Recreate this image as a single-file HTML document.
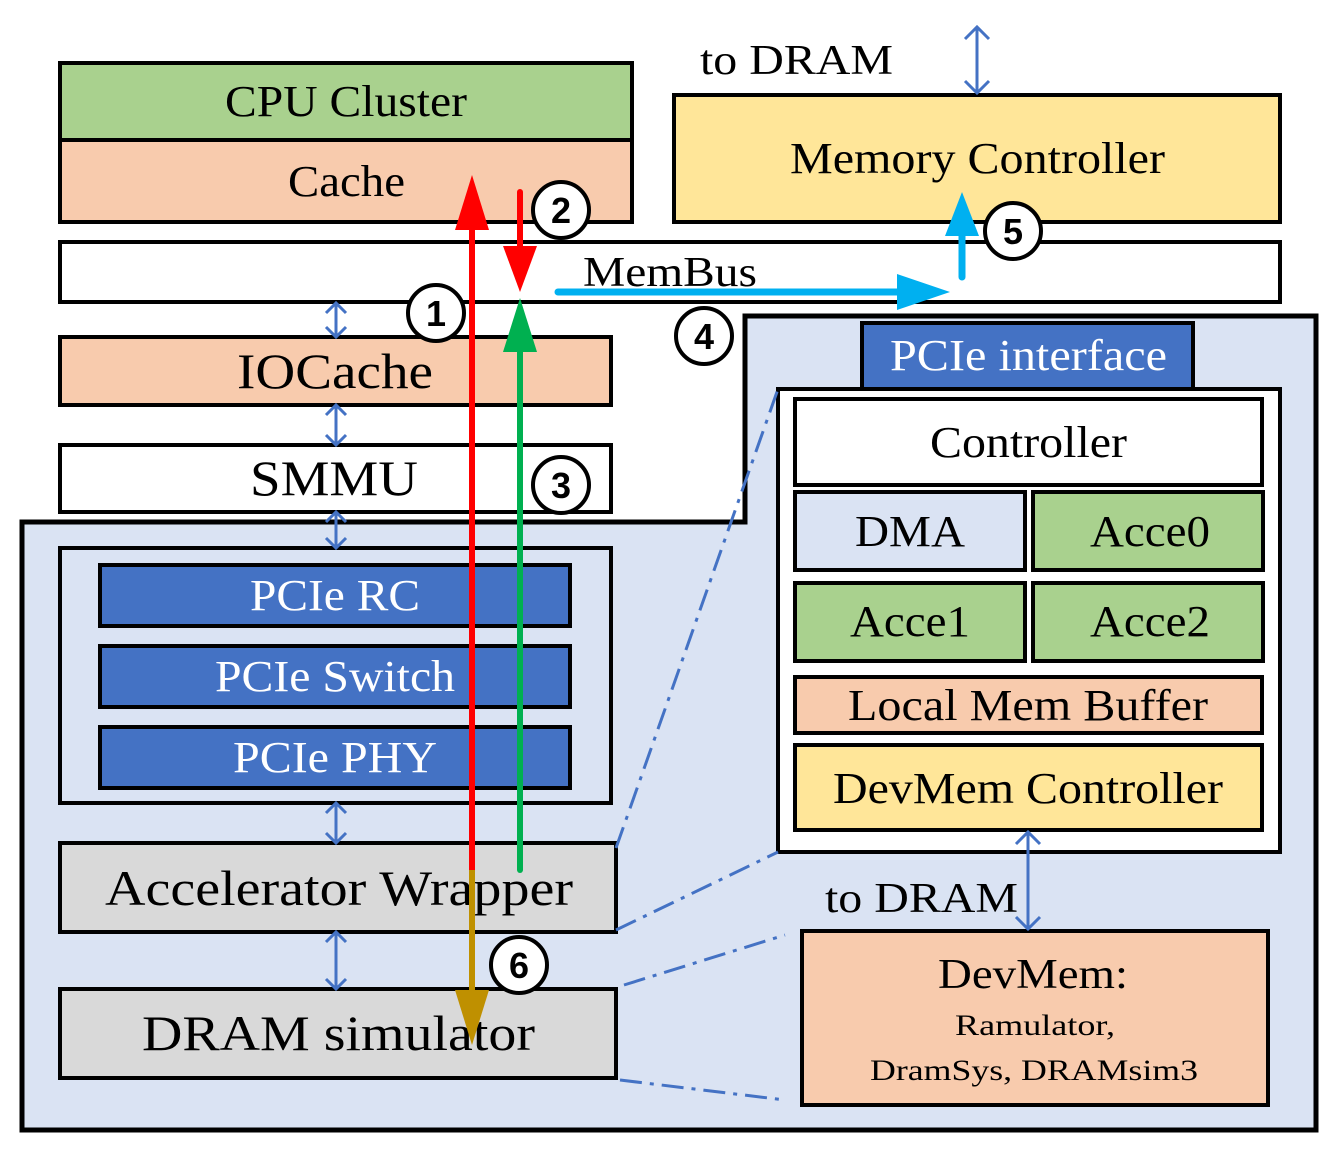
<!DOCTYPE html>
<html><head><meta charset="utf-8"><style>html,body{margin:0;padding:0;background:#fff}svg{display:block}</style></head>
<body>
<svg width="1339" height="1153" viewBox="0 0 1339 1153" xmlns="http://www.w3.org/2000/svg" font-family="Liberation Serif, serif">
<polygon points="22,522 745,522 745,316 1316,316 1316,1130 22,1130" fill="#DAE3F3" stroke="#000" stroke-width="5"/>
<g stroke="#000" stroke-width="4">
<rect x="60" y="63" width="572" height="77" fill="#A9D18E"/>
<rect x="60" y="140" width="572" height="82" fill="#F8CBAD"/>
<rect x="60" y="242" width="1220" height="60" fill="#fff"/>
<rect x="674" y="95" width="606" height="127" fill="#FFE699"/>
<rect x="60" y="337" width="551" height="68" fill="#F8CBAD"/>
<rect x="60" y="445" width="551" height="67" fill="#fff"/>
<rect x="60" y="548" width="551" height="255" fill="#DAE3F3"/>
<rect x="100" y="565" width="470" height="61" fill="#4472C4"/>
<rect x="100" y="646" width="470" height="61" fill="#4472C4"/>
<rect x="100" y="727" width="470" height="61" fill="#4472C4"/>
<rect x="60" y="843" width="556" height="89" fill="#D9D9D9"/>
<rect x="60" y="989" width="556" height="89" fill="#D9D9D9"/>
<rect x="862" y="323" width="331" height="66" fill="#4472C4"/>
<rect x="778" y="389" width="502" height="463" fill="#fff"/>
<rect x="795" y="399" width="467" height="86" fill="#fff"/>
<rect x="795" y="492" width="230" height="78" fill="#DAE3F3"/>
<rect x="1033" y="492" width="230" height="78" fill="#A9D18E"/>
<rect x="795" y="583" width="230" height="78" fill="#A9D18E"/>
<rect x="1033" y="583" width="230" height="78" fill="#A9D18E"/>
<rect x="795" y="677" width="467" height="56" fill="#F8CBAD"/>
<rect x="795" y="745" width="467" height="85" fill="#FFE699"/>
<rect x="802" y="931" width="466" height="174" fill="#F8CBAD"/>
</g>
<g stroke="#4472C4" stroke-width="3" stroke-dasharray="22,8,4,8" fill="none">
<line x1="616" y1="848" x2="778" y2="389"/>
<line x1="616" y1="930" x2="778" y2="852"/>
<line x1="624" y1="985" x2="785" y2="935"/>
<line x1="620" y1="1080" x2="785" y2="1100"/>
</g>
<g stroke="#4472C4" stroke-width="3" fill="none">
<path d="M336,305 V335 M326,313 L336,303 L346,313 M326,327 L336,337 L346,327"/>
<path d="M336,407 V443 M326,415 L336,405 L346,415 M326,435 L336,445 L346,435"/>
<path d="M336,514 V546 M326,522 L336,512 L346,522 M326,538 L336,548 L346,538"/>
<path d="M336,805 V841 M326,813 L336,803 L346,813 M326,833 L336,843 L346,833"/>
<path d="M336,934 V987 M326,942 L336,932 L346,942 M326,979 L336,989 L346,979"/>
<path d="M977,27 V93 M965,39 L977,27 L989,39 M965,81 L977,93 L989,81"/>
<path d="M1028,832 V929 M1016,844 L1028,832 L1040,844 M1016,917 L1028,929 L1040,917"/>
</g>
<g fill="#000" lengthAdjust="spacingAndGlyphs">
<text x="225" y="116" font-size="44" textLength="242" lengthAdjust="spacingAndGlyphs">CPU Cluster</text>
<text x="288" y="196" font-size="44" textLength="117" lengthAdjust="spacingAndGlyphs">Cache</text>
<text x="790" y="173" font-size="44" textLength="375" lengthAdjust="spacingAndGlyphs">Memory Controller</text>
<text x="700" y="74" font-size="42" textLength="193" lengthAdjust="spacingAndGlyphs">to DRAM</text>
<text x="583" y="286" font-size="42" textLength="174" lengthAdjust="spacingAndGlyphs">MemBus</text>
<text x="237" y="388" font-size="50" textLength="196" lengthAdjust="spacingAndGlyphs">IOCache</text>
<text x="250" y="495" font-size="50" textLength="168" lengthAdjust="spacingAndGlyphs">SMMU</text>
<text x="105" y="905" font-size="50" textLength="468" lengthAdjust="spacingAndGlyphs">Accelerator Wrapper</text>
<text x="142" y="1050" font-size="50" textLength="393" lengthAdjust="spacingAndGlyphs">DRAM simulator</text>
<text x="930" y="457" font-size="44" textLength="197" lengthAdjust="spacingAndGlyphs">Controller</text>
<text x="855" y="546" font-size="44" textLength="110" lengthAdjust="spacingAndGlyphs">DMA</text>
<text x="1090" y="546" font-size="44" textLength="120" lengthAdjust="spacingAndGlyphs">Acce0</text>
<text x="850" y="636" font-size="44" textLength="120" lengthAdjust="spacingAndGlyphs">Acce1</text>
<text x="1090" y="636" font-size="44" textLength="120" lengthAdjust="spacingAndGlyphs">Acce2</text>
<text x="848" y="720" font-size="44" textLength="360" lengthAdjust="spacingAndGlyphs">Local Mem Buffer</text>
<text x="833" y="803" font-size="44" textLength="390" lengthAdjust="spacingAndGlyphs">DevMem Controller</text>
<text x="825" y="912" font-size="42" textLength="193" lengthAdjust="spacingAndGlyphs">to DRAM</text>
<text x="938" y="988" font-size="42" textLength="190" lengthAdjust="spacingAndGlyphs">DevMem:</text>
<text x="955" y="1035" font-size="30" textLength="160" lengthAdjust="spacingAndGlyphs">Ramulator,</text>
<text x="870" y="1080" font-size="30" textLength="328" lengthAdjust="spacingAndGlyphs">DramSys, DRAMsim3</text>
</g>
<g fill="#fff">
<text x="250" y="610" font-size="44" textLength="170" lengthAdjust="spacingAndGlyphs">PCIe RC</text>
<text x="215" y="691" font-size="44" textLength="240" lengthAdjust="spacingAndGlyphs">PCIe Switch</text>
<text x="233" y="772" font-size="44" textLength="204" lengthAdjust="spacingAndGlyphs">PCIe PHY</text>
<text x="890" y="370" font-size="44" textLength="277" lengthAdjust="spacingAndGlyphs">PCIe interface</text>
</g>
<line x1="472" y1="870" x2="472" y2="225" stroke="#FF0000" stroke-width="6"/>
<polygon points="472,175 455,230 489,230" fill="#FF0000"/>
<line x1="472" y1="870" x2="472" y2="995" stroke="#BF9000" stroke-width="6"/>
<polygon points="472,1045 455,990 489,990" fill="#BF9000"/>
<line x1="520" y1="192" x2="520" y2="250" stroke="#FF0000" stroke-width="6" stroke-linecap="round"/>
<polygon points="520,292 503,246 537,246" fill="#FF0000"/>
<line x1="520" y1="870" x2="520" y2="345" stroke="#00B050" stroke-width="6" stroke-linecap="round"/>
<polygon points="520,298 503,352 537,352" fill="#00B050"/>
<line x1="558" y1="292" x2="900" y2="292" stroke="#00B0F0" stroke-width="7" stroke-linecap="round"/>
<polygon points="950,292 897,274 897,310" fill="#00B0F0"/>
<line x1="962" y1="277" x2="962" y2="232" stroke="#00B0F0" stroke-width="7" stroke-linecap="round"/>
<polygon points="962,192 945,236 979,236" fill="#00B0F0"/>
<g stroke="#000" stroke-width="4" fill="#fff">
<circle cx="436" cy="313" r="28"/>
<circle cx="561" cy="210" r="28"/>
<circle cx="561" cy="485" r="28"/>
<circle cx="704" cy="336" r="28"/>
<circle cx="1013" cy="231" r="28"/>
<circle cx="519" cy="965" r="28"/>
</g>
<g font-family="Liberation Sans, sans-serif" font-weight="bold" font-size="36" text-anchor="middle" fill="#000">
<text x="436" y="326">1</text>
<text x="561" y="223">2</text>
<text x="561" y="498">3</text>
<text x="704" y="349">4</text>
<text x="1013" y="244">5</text>
<text x="519" y="978">6</text>
</g>
</svg>
</body></html>
